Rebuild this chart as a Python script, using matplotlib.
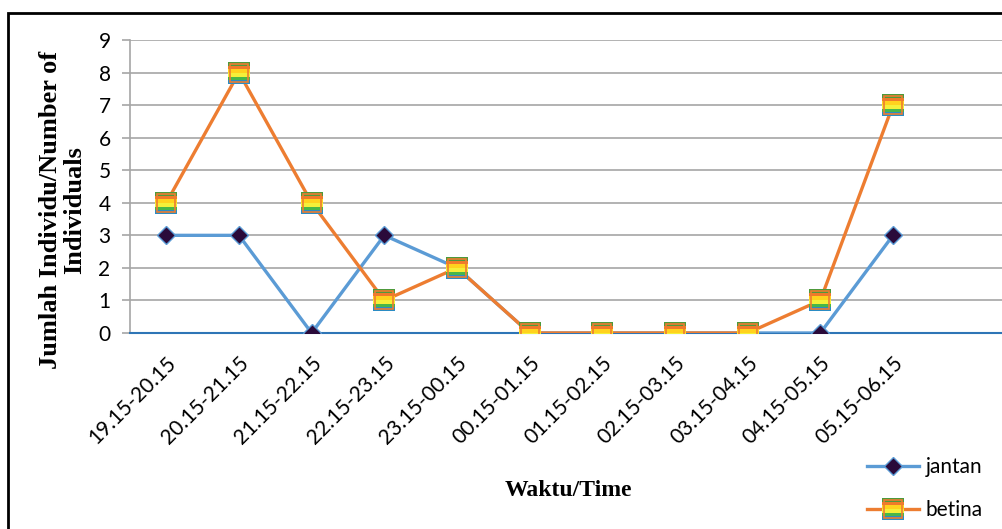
import matplotlib.pyplot as plt
import numpy as np
from matplotlib.path import Path
from matplotlib.patches import Rectangle
from matplotlib.legend_handler import HandlerTuple

times = ['19.15-20.15', '20.15-21.15', '21.15-22.15', '22.15-23.15', '23.15-00.15',
         '00.15-01.15', '01.15-02.15', '02.15-03.15', '03.15-04.15', '04.15-05.15',
         '05.15-06.15']
jantan = [3, 3, 0, 3, 2, 0, 0, 0, 0, 0, 3]
betina = [4, 8, 4, 1, 2, 0, 0, 0, 0, 1, 7]

x = np.arange(len(times))

fig = plt.figure(figsize=(10.02, 5.29), dpi=100)
ax = fig.add_axes([0.1297, 0.3705, 0.8703, 0.5539])

# outer chart frame
fig.patches.append(Rectangle((0.008, -0.05), 1.1, 1.025, transform=fig.transFigure,
                             fill=False, edgecolor='black', linewidth=2))

ax.grid(axis='y', color='#a6a6a6', linewidth=1.2)
ax.set_axisbelow(True)

l1, = ax.plot(x, jantan, color='#5b9bd5', linewidth=2.4, marker='D', markersize=9.5,
              markerfacecolor='#2a0a3a', markeredgecolor='#5b9bd5', markeredgewidth=1,
              label='jantan', zorder=3)
l2, = ax.plot(x, betina, color='#ed7d31', linewidth=2.4, zorder=4)

# rainbow striped square markers
stripe_cols = ['#4e9a3c', '#f07a2a', '#ffd21e', '#f4f03a', '#49b649', '#2b8cc4']
edges = np.linspace(1, -1, len(stripe_cols) + 1)
stripes = []
for i, c in enumerate(stripe_cols):
    y0, y1 = edges[i + 1], edges[i]
    p = Path([(-1, y0), (1, y0), (1, y1), (-1, y1), (-1, y0)],
             [Path.MOVETO, Path.LINETO, Path.LINETO, Path.LINETO, Path.CLOSEPOLY])
    s, = ax.plot(x, betina, linestyle='none', marker=p, markersize=15.5,
                 markerfacecolor=c, markeredgewidth=0, zorder=5)
    stripes.append(s)
sq, = ax.plot(x, betina, linestyle='none', marker='s', markersize=12.5,
              markerfacecolor='none', markeredgecolor='#ed7d31', markeredgewidth=1.2, zorder=6)

ax.set_xlim(-0.5, 11.5)
ax.set_ylim(0, 9)
ax.set_yticks(range(10))
ax.set_xticks(x)
ax.set_xticklabels(times, rotation=45, ha='right', rotation_mode='anchor',
                   fontsize=15, family='Lato')
for lab in ax.get_yticklabels():
    lab.set_family('Lato')
ax.tick_params(axis='y', labelsize=15, length=6, color='#a6a6a6', width=1.2, pad=8)
ax.tick_params(axis='x', length=0, pad=14)

for s in ['top', 'right']:
    ax.spines[s].set_visible(False)
ax.spines['left'].set_color('#a6a6a6')
ax.spines['left'].set_linewidth(1.2)
ax.spines['bottom'].set_color('#2e75b6')
ax.spines['bottom'].set_linewidth(1.5)
ax.spines['bottom'].set_zorder(2.5)

ax.set_ylabel('Jumlah Individu/Number of\nIndividuals', family='Liberation Serif',
              fontweight='bold', fontsize=19, linespacing=1.05)
ax.yaxis.set_label_coords(-0.05, 0.42)
fig.text(0.567, 0.073, 'Waktu/Time', family='Liberation Serif', fontweight='bold',
         fontsize=17, ha='center', va='center')

fig.legend([l1, tuple([l2] + stripes + [sq])], ['jantan', 'betina'],
           handler_map={tuple: HandlerTuple(ndivide=1)},
           loc='upper left', bbox_to_anchor=(0.855, 0.155), frameon=False,
           prop={'family': 'Lato', 'size': 15}, labelspacing=1.1,
           handlelength=2.5, handletextpad=0.3, borderpad=0)

fig.savefig('out.png', dpi=100)
